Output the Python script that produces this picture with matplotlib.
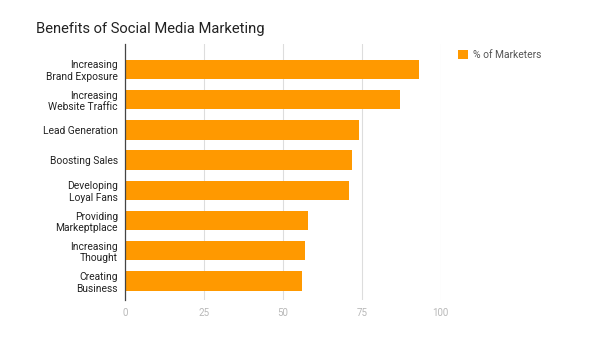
import matplotlib
matplotlib.use("Agg")
import matplotlib.pyplot as plt
from matplotlib.patches import Patch

plt.rcParams['font.family'] = ['Roboto', 'DejaVu Sans']

categories = [
    "Increasing\nBrand Exposure",
    "Increasing\nWebsite Traffic",
    "Lead Generation",
    "Boosting Sales",
    "Developing\nLoyal Fans",
    "Providing\nMarkeptplace",
    "Increasing\nThought",
    "Creating\nBusiness",
]
values = [93, 87, 74, 72, 71, 58, 57, 56]
x_ticks = [0, 25, 50, 75, 100]
series_name = "% of Marketers"
title = "Benefits of Social Media Marketing"

bar_color = "#FF9900"

fig = plt.figure(figsize=(6.0, 3.45), dpi=100)
W, H = 600, 345
left, right, top, bottom = 124.7, 440.7, 44, 300
ax = fig.add_axes([left / W, 1 - bottom / H, (right - left) / W, (bottom - top) / H])

ypos = list(range(len(categories)))
ax.barh(ypos, values, height=0.64, color=bar_color, zorder=3)

ax.set_xlim(0, 100)
ax.set_ylim(7.63, -0.84)

ax.set_xticks(x_ticks)
ax.set_xticklabels([str(t) for t in x_ticks])
ax.tick_params(axis='x', length=0, pad=6, labelsize=7, colors="#b8b8b8")
ax.set_yticks(ypos)
ax.set_yticklabels(categories, fontsize=7.4, color="#222222", linespacing=1.22)
ax.tick_params(axis='y', length=0, pad=5)

ax.grid(axis='x', color="#dddddd", linewidth=0.8, zorder=0)
for s in ['top', 'right', 'bottom']:
    ax.spines[s].set_visible(False)
ax.spines['left'].set_color("#444444")
ax.spines['left'].set_linewidth(0.9)
ax.spines['left'].set_zorder(4)

fig.text(36 / W, 1 - 29 / H, title, fontsize=10.6, color="#222222", va='center', ha='left')

handle = Patch(facecolor=bar_color, edgecolor='none')
fig.legend([handle], [series_name], loc='upper left',
           bbox_to_anchor=(449 / W, 1 - 41 / H), frameon=False,
           fontsize=7.4, labelcolor="#555555", handlelength=0.9, handleheight=0.9,
           handletextpad=0.55)

fig.savefig("out.png", dpi=100)
